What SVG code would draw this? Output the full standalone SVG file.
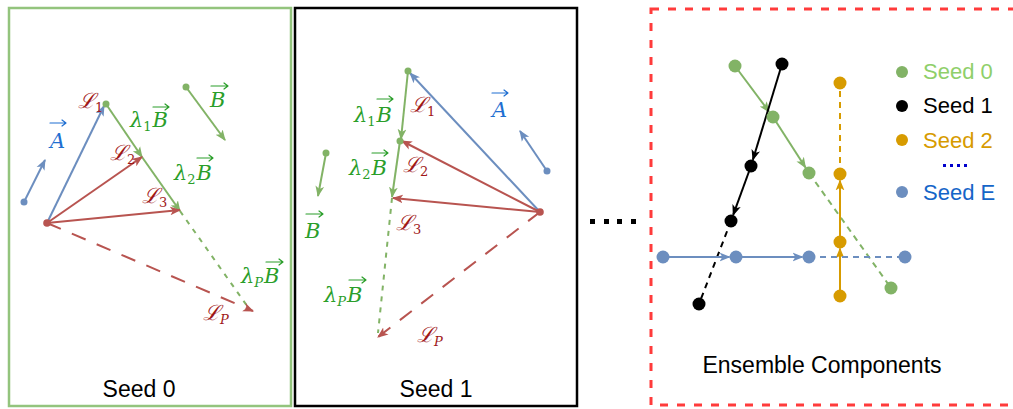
<svg xmlns="http://www.w3.org/2000/svg" width="1013" height="409" viewBox="0 0 1013 409">
<style>
.cap{font-family:"Liberation Sans",Arial,sans-serif;font-size:23px;fill:#000}
.m{font-family:"DejaVu Serif","Liberation Serif",serif;font-style:italic;font-size:21px}
.sub{font-style:normal;font-size:13px}
.subi{font-style:italic;font-size:13px}
.r{fill:#a01818}
.g{fill:#2a9e2a}
.b{fill:#1f6fd1}
.ln{fill:none;stroke-width:2}
.bl{stroke:#6c8ebf}
.gl{stroke:#82b366}
.rl{stroke:#b85450}
.kl{stroke:#000}
.ol{stroke:#d79b00}
.ov{fill:none;stroke-width:1.2;stroke-linecap:round;stroke-linejoin:round}
.leg{font-family:"Liberation Sans",Arial,sans-serif;font-size:22px}
</style>
<defs>
<marker id="ab" viewBox="0 0 10 10" refX="9" refY="5" markerWidth="11" markerHeight="11" markerUnits="userSpaceOnUse" orient="auto"><path d="M0,1 L10,5 L0,9 L2.5,5 z" fill="#6c8ebf"/></marker>
<marker id="ag" viewBox="0 0 10 10" refX="9" refY="5" markerWidth="11" markerHeight="11" markerUnits="userSpaceOnUse" orient="auto"><path d="M0,1 L10,5 L0,9 L2.5,5 z" fill="#82b366"/></marker>
<marker id="ar" viewBox="0 0 10 10" refX="9" refY="5" markerWidth="11" markerHeight="11" markerUnits="userSpaceOnUse" orient="auto"><path d="M0,1 L10,5 L0,9 L2.5,5 z" fill="#b85450"/></marker>
<marker id="ak" viewBox="0 0 10 10" refX="9" refY="5" markerWidth="11" markerHeight="11" markerUnits="userSpaceOnUse" orient="auto"><path d="M0,1 L10,5 L0,9 L2.5,5 z" fill="#000"/></marker>
<marker id="ao" viewBox="0 0 10 10" refX="9" refY="5" markerWidth="11" markerHeight="11" markerUnits="userSpaceOnUse" orient="auto"><path d="M0,1 L10,5 L0,9 L2.5,5 z" fill="#d79b00"/></marker>
</defs>
<rect width="1013" height="409" fill="#fff"/>

<!-- Panel frames -->
<g id="panel-seed0">
<rect x="9" y="8" width="282" height="398" fill="none" stroke="#93c47d" stroke-width="2.5"/>
<text class="cap" x="139" y="397" text-anchor="middle">Seed 0</text>
</g>
<g id="panel-seed1">
<rect x="295" y="8" width="282" height="398" fill="none" stroke="#000" stroke-width="2.5"/>
<text class="cap" x="436" y="397" text-anchor="middle">Seed 1</text>
</g>
<g id="ellipsis" fill="#000">
<rect x="590" y="219" width="5" height="5"/><rect x="604" y="219" width="5" height="5"/><rect x="617" y="219" width="5" height="5"/><rect x="631" y="219" width="5" height="5"/>
</g>
<g id="panel-ensemble">
<rect x="651" y="9" width="380" height="396" fill="none" stroke="#ff3b3b" stroke-width="3" stroke-dasharray="8 9"/>
<text class="cap" x="822" y="373" text-anchor="middle">Ensemble Components</text>
</g>

<!-- Seed 0 connectors -->
<g id="connectors-seed0">
<line class="ln bl" x1="24" y1="202" x2="45" y2="160" marker-end="url(#ab)"/>
<line class="ln bl" x1="47" y1="223" x2="104" y2="106" marker-end="url(#ab)"/>
<line class="ln gl" x1="106" y1="104" x2="142" y2="157" marker-end="url(#ag)"/>
<line class="ln gl" x1="142" y1="157" x2="180" y2="211" marker-end="url(#ag)"/>
<line class="ln gl" x1="180" y1="211" x2="250" y2="310" stroke-dasharray="5 6"/>
<line class="ln gl" x1="186" y1="87" x2="225" y2="140" marker-end="url(#ag)"/>
<line class="ln rl" x1="47" y1="223" x2="142" y2="157" marker-end="url(#ar)"/>
<line class="ln rl" x1="47" y1="223" x2="180" y2="210" marker-end="url(#ar)"/>
<line class="ln rl" x1="47" y1="223" x2="253" y2="311" stroke-dasharray="15 12" marker-end="url(#ar)"/>
</g>
<g id="nodes-seed0">
<circle cx="24" cy="202" r="3.5" fill="#6c8ebf"/>
<circle cx="106" cy="104" r="3.5" fill="#82b366"/>
<circle cx="186" cy="87" r="3.5" fill="#82b366"/>
<circle cx="47" cy="223" r="3.8" fill="#b85450"/>
</g>
<g id="labels-seed0">
<text class="m b" x="50" y="148">A</text>
<path class="ov" stroke="#1f6fd1" d="M50,123 H66 M62,120 L66,123 L62,126"/>
<text class="m r" x="78" y="108">ℒ<tspan class="sub" dy="4">1</tspan></text>
<text class="m g" x="130" y="127">λ<tspan class="sub" dy="4">1</tspan><tspan dx="1" dy="-4">B</tspan></text>
<path class="ov" stroke="#2a9e2a" d="M153,107 H169 M165,104 L169,107 L165,110"/>
<text class="m g" x="210" y="107">B</text>
<path class="ov" stroke="#2a9e2a" d="M211,86 H228 M224,83 L228,86 L224,89"/>
<text class="m r" x="110" y="160">ℒ<tspan class="sub" dy="4">2</tspan></text>
<text class="m g" x="174" y="180">λ<tspan class="sub" dy="4">2</tspan><tspan dx="1" dy="-4">B</tspan></text>
<path class="ov" stroke="#2a9e2a" d="M197,158 H213 M209,155 L213,158 L209,161"/>
<text class="m r" x="142" y="203">ℒ<tspan class="sub" dy="4">3</tspan></text>
<text class="m g" x="241" y="283">λ<tspan class="subi" dy="4">P</tspan><tspan dx="1" dy="-4">B</tspan></text>
<path class="ov" stroke="#2a9e2a" d="M266,262 H283 M279,259 L283,262 L279,265"/>
<text class="m r" x="203" y="320">ℒ<tspan class="subi" dy="4">P</tspan></text>
</g>

<!-- Seed 1 connectors -->
<g id="connectors-seed1">
<line class="ln bl" x1="540" y1="212" x2="410" y2="73" marker-end="url(#ab)"/>
<line class="ln gl" x1="408" y1="71" x2="401" y2="139" marker-end="url(#ag)"/>
<line class="ln gl" x1="400" y1="141" x2="392" y2="197" marker-end="url(#ag)"/>
<line class="ln gl" x1="392" y1="198" x2="378" y2="333" stroke-dasharray="5 6"/>
<line class="ln rl" x1="540" y1="212" x2="402" y2="141" marker-end="url(#ar)"/>
<line class="ln rl" x1="540" y1="212" x2="393" y2="198" marker-end="url(#ar)"/>
<line class="ln rl" x1="540" y1="212" x2="378" y2="337" stroke-dasharray="15 12" marker-end="url(#ar)"/>
<line class="ln gl" x1="326" y1="153" x2="318" y2="196" marker-end="url(#ag)"/>
<line class="ln bl" x1="547" y1="171" x2="520" y2="131" marker-end="url(#ab)"/>
</g>
<g id="nodes-seed1">
<circle cx="408" cy="71" r="3.5" fill="#82b366"/>
<circle cx="400" cy="141" r="3.5" fill="#82b366"/>
<circle cx="326" cy="153" r="3.5" fill="#82b366"/>
<circle cx="547" cy="171" r="3.5" fill="#6c8ebf"/>
<circle cx="540" cy="212" r="3.8" fill="#b85450"/>
</g>
<g id="labels-seed1">
<text class="m g" x="354" y="122">λ<tspan class="sub" dy="4">1</tspan><tspan dx="1" dy="-4">B</tspan></text>
<path class="ov" stroke="#2a9e2a" d="M377,99 H393 M389,96 L393,99 L389,102"/>
<text class="m r" x="410" y="112">ℒ<tspan class="sub" dy="4">1</tspan></text>
<text class="m g" x="349" y="175">λ<tspan class="sub" dy="4">2</tspan><tspan dx="1" dy="-4">B</tspan></text>
<path class="ov" stroke="#2a9e2a" d="M372,153 H388 M384,150 L388,153 L384,156"/>
<text class="m r" x="403" y="172">ℒ<tspan class="sub" dy="4">2</tspan></text>
<text class="m r" x="396" y="230">ℒ<tspan class="sub" dy="4">3</tspan></text>
<text class="m g" x="324" y="302">λ<tspan class="subi" dy="4">P</tspan><tspan dx="1" dy="-4">B</tspan></text>
<path class="ov" stroke="#2a9e2a" d="M349,280 H366 M362,277 L366,280 L362,283"/>
<text class="m r" x="417" y="342">ℒ<tspan class="subi" dy="4">P</tspan></text>
<text class="m g" x="305" y="238">B</text>
<path class="ov" stroke="#2a9e2a" d="M306,214 H323 M319,211 L323,214 L319,217"/>
<text class="m b" x="492" y="117">A</text>
<path class="ov" stroke="#1f6fd1" d="M492,93 H508 M504,90 L508,93 L504,96"/>
</g>

<!-- Ensemble connectors -->
<g id="connectors-ensemble">
<line class="ln gl" x1="735" y1="66" x2="769.1" y2="111.8" marker-end="url(#ag)"/>
<line class="ln gl" x1="773" y1="117" x2="805.5" y2="167.5" marker-end="url(#ag)"/>
<line class="ln gl" x1="809" y1="173" x2="891" y2="288" stroke-dasharray="6 5"/>
<line class="ln kl" x1="782" y1="64" x2="752.9" y2="159.8" marker-end="url(#ak)"/>
<line class="ln kl" x1="751" y1="166" x2="733.2" y2="214.9" marker-end="url(#ak)"/>
<line class="ln kl" x1="731" y1="221" x2="699" y2="304" stroke-dasharray="6 5"/>
<line class="ln ol" x1="840" y1="296" x2="840" y2="248.5" marker-end="url(#ao)"/>
<line class="ln ol" x1="840" y1="242" x2="840" y2="180.5" marker-end="url(#ao)"/>
<line class="ln ol" x1="840" y1="174" x2="840" y2="83" stroke-dasharray="6 5"/>
<line class="ln bl" x1="663" y1="257" x2="729.5" y2="257" marker-end="url(#ab)"/>
<line class="ln bl" x1="736" y1="257" x2="802.5" y2="257" marker-end="url(#ab)"/>
<line class="ln bl" x1="809" y1="257" x2="905" y2="257" stroke-dasharray="6 5"/>
</g>
<g id="nodes-ensemble">
<g fill="#82b366"><circle cx="735" cy="66" r="6.5"/><circle cx="773" cy="117" r="6.5"/><circle cx="809" cy="173" r="6.5"/><circle cx="891" cy="288" r="6.5"/></g>
<g fill="#000"><circle cx="782" cy="64" r="6.5"/><circle cx="751" cy="166" r="6.5"/><circle cx="731" cy="221" r="6.5"/><circle cx="699" cy="304" r="6.5"/></g>
<g fill="#d79b00"><circle cx="840" cy="83" r="6.5"/><circle cx="840" cy="174" r="6.5"/><circle cx="840" cy="242" r="6.5"/><circle cx="840" cy="296" r="6.5"/></g>
<g fill="#6c8ebf"><circle cx="663" cy="257" r="6.5"/><circle cx="736" cy="257" r="6.5"/><circle cx="809" cy="257" r="6.5"/><circle cx="905" cy="257" r="6.5"/></g>
</g>
<g id="legend">
<circle cx="902" cy="72" r="6" fill="#82b366"/>
<text class="leg" x="923" y="79" fill="#8fcf6a">Seed 0</text>
<circle cx="902" cy="106" r="6" fill="#000"/>
<text class="leg" x="923" y="113" fill="#000">Seed 1</text>
<circle cx="902" cy="140" r="6" fill="#d79b00"/>
<text class="leg" x="923" y="148" fill="#d79b00">Seed 2</text>
<g fill="#0000cc"><rect x="943" y="164" width="3" height="3"/><rect x="950" y="164" width="3" height="3"/><rect x="957" y="164" width="3" height="3"/><rect x="964" y="164" width="3" height="3"/></g>
<circle cx="902" cy="192" r="6" fill="#6c8ebf"/>
<text class="leg" x="923" y="200" fill="#1565c8">Seed E</text>
</g>
</svg>
